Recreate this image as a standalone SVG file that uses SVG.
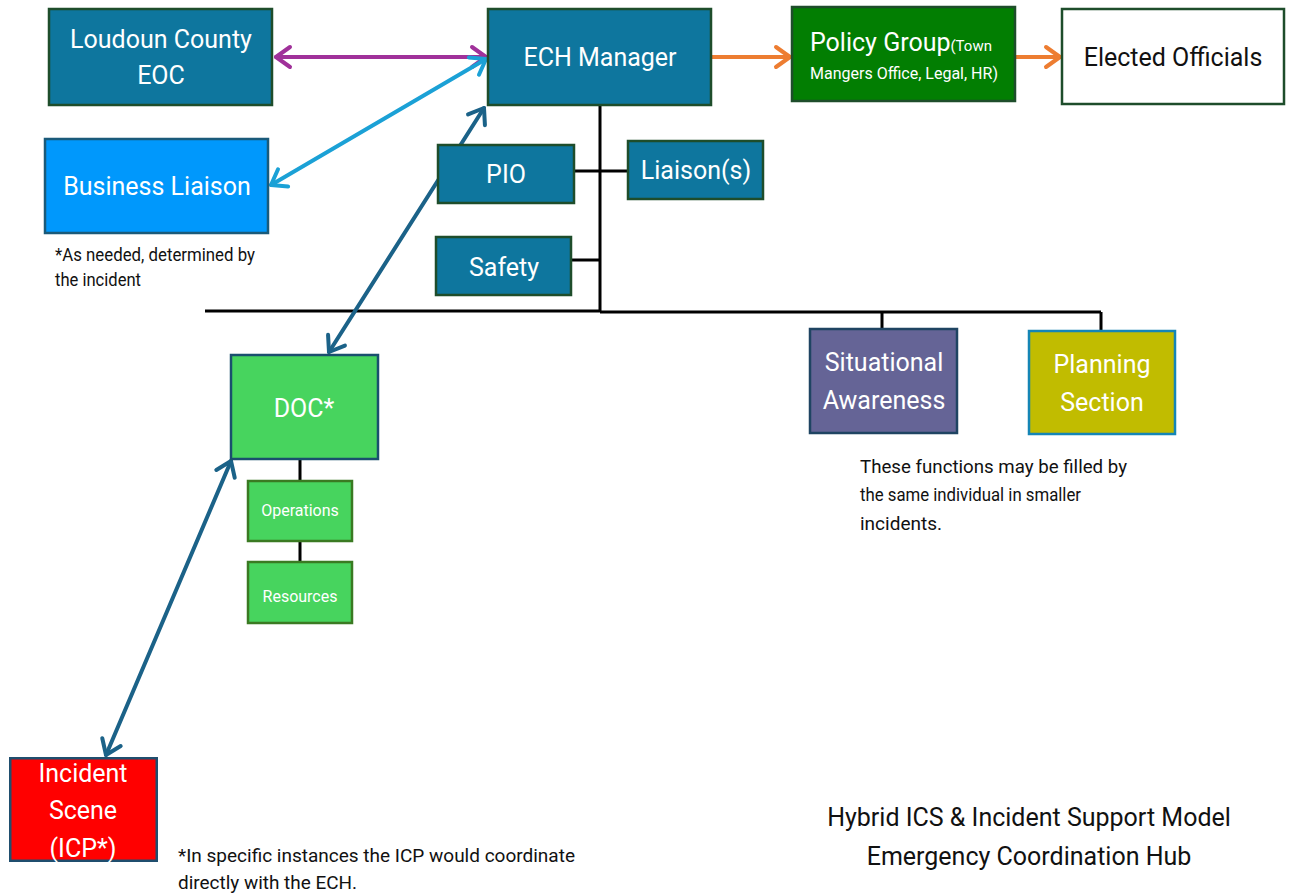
<svg xmlns="http://www.w3.org/2000/svg" width="1289" height="894" viewBox="0 0 1289 894">
<style>
text{font-family:Roboto,"Liberation Sans",sans-serif}
.w{fill:#ffffff}
.k{fill:#111111}
.box{stroke-width:2.5}
.teal{fill:#0E769E;stroke:#1E4D2B}
.c26{font-size:25px;text-anchor:middle}
.c16{font-size:16px;text-anchor:middle}
.note{font-size:17.5px;fill:#111}
.tree{stroke:#000;stroke-width:3;fill:none}
.arr{fill:none;stroke-width:4;stroke-linecap:round}
</style>
<defs>
<marker id="mPurple" markerUnits="userSpaceOnUse" markerWidth="30" markerHeight="30" refX="0" refY="0" viewBox="-20 -15 25 30" orient="auto-start-reverse" overflow="visible"><path d="M-14,-10 L0,0 L-14,10" fill="none" stroke="#A0319A" stroke-width="4" stroke-linecap="round" stroke-linejoin="round"/></marker>
<marker id="mLight" markerUnits="userSpaceOnUse" markerWidth="30" markerHeight="30" refX="0" refY="0" viewBox="-20 -15 25 30" orient="auto-start-reverse" overflow="visible"><path d="M-14,-10 L0,0 L-14,10" fill="none" stroke="#1BA1D6" stroke-width="4" stroke-linecap="round" stroke-linejoin="round"/></marker>
<marker id="mDark" markerUnits="userSpaceOnUse" markerWidth="30" markerHeight="30" refX="0" refY="0" viewBox="-20 -15 25 30" orient="auto-start-reverse" overflow="visible"><path d="M-14,-10 L0,0 L-14,10" fill="none" stroke="#1B6288" stroke-width="4" stroke-linecap="round" stroke-linejoin="round"/></marker>
<marker id="mOrange" markerUnits="userSpaceOnUse" markerWidth="30" markerHeight="30" refX="0" refY="0" viewBox="-20 -15 25 30" orient="auto-start-reverse" overflow="visible"><path d="M-14,-10 L0,0 L-14,10" fill="none" stroke="#ED7D31" stroke-width="4" stroke-linecap="round" stroke-linejoin="round"/></marker>
</defs>
<rect width="1289" height="894" fill="#ffffff"/>

<g id="connectors">
<path class="tree" d="M600,105 V312 M574,171 H628 M571,260 H600 M205,311 H600 M600,312 H1101 M882,312 V329 M1101,312 V331 M300,459 V481 M300,541 V562"/>
<line class="arr" stroke="#A0319A" x1="276" y1="57" x2="486" y2="57" marker-start="url(#mPurple)" marker-end="url(#mPurple)"/>
<line class="arr" stroke="#1BA1D6" x1="271" y1="185" x2="486" y2="59" marker-start="url(#mLight)" marker-end="url(#mLight)"/>
<line class="arr" stroke="#1B6288" x1="329" y1="352" x2="484" y2="108" marker-start="url(#mDark)" marker-end="url(#mDark)"/>
<line class="arr" stroke="#1B6288" x1="231" y1="461" x2="106" y2="755" marker-start="url(#mDark)" marker-end="url(#mDark)"/>
<line class="arr" stroke="#ED7D31" x1="712" y1="57" x2="790" y2="57" marker-end="url(#mOrange)"/>
<line class="arr" stroke="#ED7D31" x1="1016" y1="57" x2="1060" y2="57" marker-end="url(#mOrange)"/>
</g>

<g id="eoc"><rect class="box teal" x="49" y="9" width="223" height="96"/>
<text class="w c26" x="161" y="48">Loudoun County</text><text class="w c26" x="161" y="84">EOC</text></g>

<g id="ech"><rect class="box teal" x="488" y="9" width="223" height="96"/>
<text class="w c26" x="600" y="66">ECH Manager</text></g>

<g id="policy"><rect class="box" fill="#027E02" stroke="#1E4D2B" x="792" y="7" width="223" height="94"/>
<text class="w" x="810" y="51" font-size="25">Policy Group<tspan font-size="15">(Town</tspan></text>
<text class="w c16" x="904" y="79" font-size="15">Mangers Office, Legal, HR)</text></g>

<g id="elected"><rect class="box" fill="#ffffff" stroke="#1E4D2B" x="1062" y="9" width="222" height="95"/>
<text class="k c26" x="1173" y="66">Elected Officials</text></g>

<g id="business"><rect class="box" fill="#0098FC" stroke="#1A5A7A" x="45" y="139" width="223" height="94"/>
<text class="w c26" x="157" y="195">Business Liaison</text></g>

<text class="note" x="55" y="261" textLength="200" lengthAdjust="spacingAndGlyphs">*As needed, determined by</text>
<text class="note" x="55" y="286" textLength="86" lengthAdjust="spacingAndGlyphs">the incident</text>

<g id="pio"><rect class="box teal" x="438" y="145" width="136" height="58"/>
<text class="w c26" x="506" y="183">PIO</text></g>

<g id="liaisons"><rect class="box teal" x="628" y="141" width="135" height="58"/>
<text class="w c26" x="696" y="179">Liaison(s)</text></g>

<g id="safety"><rect class="box teal" x="436" y="237" width="135" height="58"/>
<text class="w c26" x="504" y="276">Safety</text></g>

<g id="situational"><rect class="box" fill="#656496" stroke="#1F4462" x="810" y="329" width="147" height="104"/>
<text class="w c26" x="884" y="371">Situational</text><text class="w c26" x="884" y="409">Awareness</text></g>

<g id="planning"><rect class="box" fill="#C1BC00" stroke="#1585B5" x="1029" y="331" width="146" height="103"/>
<text class="w c26" x="1102" y="373">Planning</text><text class="w c26" x="1102" y="411">Section</text></g>

<text class="note" x="860" y="473" textLength="267" lengthAdjust="spacingAndGlyphs">These functions may be filled by</text>
<text class="note" x="860" y="501" textLength="221" lengthAdjust="spacingAndGlyphs">the same individual in smaller</text>
<text class="note" x="860" y="530" textLength="82" lengthAdjust="spacingAndGlyphs">incidents.</text>

<g id="doc"><rect class="box" fill="#47D45E" stroke="#1A4F6E" x="231" y="355" width="147" height="104"/>
<text class="w c26" x="304" y="417">DOC*</text></g>

<g id="operations"><rect class="box" fill="#47D45E" stroke="#3A7A22" x="248" y="481" width="104" height="60"/>
<text class="w c16" x="300" y="516">Operations</text></g>

<g id="resources"><rect class="box" fill="#47D45E" stroke="#3A7A22" x="248" y="562" width="104" height="61"/>
<text class="w c16" x="300" y="602">Resources</text></g>

<g id="incident"><svg x="9" y="757" width="149" height="105" overflow="hidden">
<rect class="box" fill="#FF0000" stroke="#1F4E6E" x="1.25" y="1.25" width="146.5" height="102.5"/>
<text class="w c26" x="74" y="25">Incident</text><text class="w c26" x="74" y="62">Scene</text><text class="w c26" x="74" y="100">(ICP*)</text>
</svg></g>

<text class="note" x="178" y="862" font-size="20" textLength="397" lengthAdjust="spacingAndGlyphs">*In specific instances the ICP would coordinate</text>
<text class="note" x="178" y="889" font-size="20" textLength="179" lengthAdjust="spacingAndGlyphs">directly with the ECH.</text>

<text class="k" x="1029" y="826" font-size="25" text-anchor="middle">Hybrid ICS &amp; Incident Support Model</text>
<text class="k" x="1029" y="865" font-size="25" text-anchor="middle">Emergency Coordination Hub</text>
</svg>
